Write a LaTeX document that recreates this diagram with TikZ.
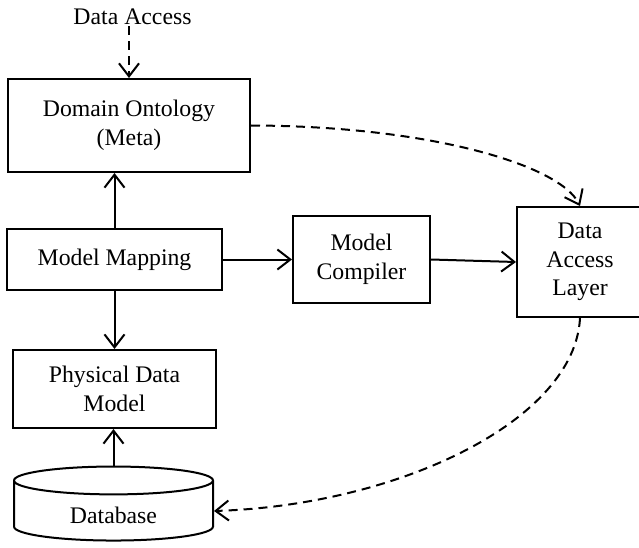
\documentclass[tikz,border=0pt]{standalone}
\usepackage{fontspec}
\setmainfont{Liberation Serif}
\usetikzlibrary{arrows.meta,shapes.geometric}

\begin{document}
\begin{tikzpicture}[x=1pt,y=-1pt,
  every node/.style={font=\fontsize{23.75}{28.5}\selectfont},
  box/.style={draw, line width=2pt, inner sep=0pt, align=center},
  conn/.style={line width=2pt, -{Straight Barb[length=13pt,width=20pt,line width=2pt]}},
  dashconn/.style={conn, dash pattern=on 9pt off 6pt},
]
\clip (0,0) rectangle (639,548);

% blocks
\node[inner sep=1pt] (lbl) at (132.5,17) {Data Access};
\node[box, minimum width=242pt, minimum height=93pt] (dom) at (129,125.5) {Domain Ontology\\(Meta)};
\node[box, minimum width=215pt, minimum height=61pt] (mm) at (114.5,259.5) {Model Mapping};
\node[box, minimum width=137pt, minimum height=87pt] (mc) at (361.5,259.5) {Model\\Compiler};
\node[box, minimum width=126pt, minimum height=110pt] (dal) at (580,262) {Data\\Access\\Layer};
\node[box, minimum width=203pt, minimum height=78pt] (pdm) at (114.5,389) {Physical Data\\Model};
% cylinder outline; its label is set a little lower as a separate node
\node[draw, line width=2pt, cylinder, shape border rotate=90, aspect=0.32,
      minimum width=199pt, minimum height=74pt, inner sep=0pt] (db) at (113.5,511) {\phantom{Database}};
\node[inner sep=0pt] (dbtext) at (113.5,515) {Database};

% solid connectors
\draw[conn] (mm.north) -- (mm.north |- dom.south);
\draw[conn] (mm.south) -- (mm.south |- pdm.north);
\draw[conn] (db.north) -- (db.north |- pdm.south);
\draw[conn] (mm.east) -- (mm.east -| mc.west);
\draw[conn] (mc.east) -- (dal.west);

% dashed connectors
\draw[dashconn] (dom.north |- lbl.south) -- (dom.north);
\draw[dashconn] (dom.east) .. controls (430,126) and (560,165) .. (dal.north);
\draw[dashconn] (dal.south) .. controls (575,420) and (400,505) .. (db.east);
\end{tikzpicture}
\end{document}
